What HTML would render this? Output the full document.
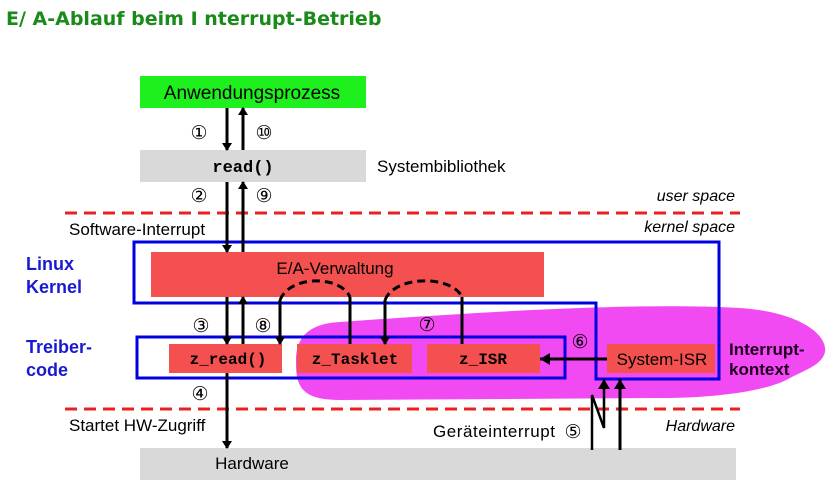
<!DOCTYPE html>
<html><head><meta charset="utf-8"><style>
body{margin:0;background:#fff;}
svg{display:block}
text{font-family:"Liberation Sans","DejaVu Sans",sans-serif;}
.m{font-family:"Liberation Mono",monospace;font-weight:bold;}
.c{font-family:"Noto Sans CJK JP","DejaVu Sans",sans-serif;font-size:19px;}
</style></head><body>
<svg width="840" height="488" viewBox="0 0 840 488" xmlns="http://www.w3.org/2000/svg">
<defs>
<marker id="a" markerWidth="8" markerHeight="10" refX="7" refY="5" orient="auto" markerUnits="userSpaceOnUse" viewBox="0 0 8 10"><path d="M0,0 L8,5 L0,10 z" fill="#000"/></marker>
<marker id="b" markerWidth="10" markerHeight="12" refX="10" refY="6" orient="auto" markerUnits="userSpaceOnUse" viewBox="0 0 10 12"><path d="M0,0 L10,6 L0,12 z" fill="#000"/></marker>
</defs>
<text x="6" y="25" font-size="19" font-weight="bold" fill="#1a8a1a" style="font-family:'DejaVu Sans',sans-serif">E/ A-Ablauf beim I nterrupt-Betrieb</text>

<!-- magenta blob -->
<path d="M340,322 C480,312 640,302 740,308 C800,312 828,335 825,352 C822,365 805,370 790,378 C770,390 720,398 660,398 L340,400 C300,400 296,385 296,362 C296,340 305,324 340,322 Z" fill="#f24af2"/>

<!-- boxes -->
<rect x="140" y="76" width="226" height="32" fill="#1ef01e"/>
<text x="252" y="99" font-size="19" text-anchor="middle">Anwendungsprozess</text>
<rect x="140" y="150" width="226" height="32" fill="#d9d9d9"/>
<text x="243" y="172" font-size="17" class="m" text-anchor="middle">read()</text>
<text x="377" y="172" font-size="17">Systembibliothek</text>
<rect x="140" y="448" width="596" height="32" fill="#d9d9d9"/>
<text x="252" y="469" font-size="17" text-anchor="middle">Hardware</text>

<rect x="151" y="252" width="393" height="45" fill="#f45050"/>
<text x="335" y="274" font-size="17" text-anchor="middle">E/A-Verwaltung</text>
<rect x="169" y="344" width="113" height="29" fill="#f45050"/>
<text x="228" y="364" font-size="16" class="m" text-anchor="middle">z_read()</text>
<rect x="297" y="344" width="115" height="29" fill="#f45050"/>
<text x="355" y="364" font-size="16" class="m" text-anchor="middle">z_Tasklet</text>
<rect x="427" y="344" width="113" height="29" fill="#f45050"/>
<text x="483" y="364" font-size="16" class="m" text-anchor="middle">z_ISR</text>
<rect x="607" y="344" width="108" height="29" fill="#f45050"/>
<text x="662" y="365" font-size="17" text-anchor="middle">System-ISR</text>

<!-- blue boxes -->
<path d="M134,242 H719 V379 H596 V303 H134 Z" fill="none" stroke="#0000e0" stroke-width="3"/>
<rect x="137" y="337" width="428" height="41" fill="none" stroke="#0000e0" stroke-width="3"/>

<!-- dashed lines -->
<line x1="65" y1="213" x2="740" y2="213" stroke="#e82020" stroke-width="3" stroke-dasharray="12,7"/>
<line x1="65" y1="409" x2="740" y2="409" stroke="#e82020" stroke-width="3" stroke-dasharray="12,7"/>

<!-- labels -->
<text x="735" y="201" font-size="16" font-style="italic" text-anchor="end">user space</text>
<text x="735" y="232" font-size="16" font-style="italic" text-anchor="end">kernel space</text>
<text x="735" y="431" font-size="16" font-style="italic" text-anchor="end">Hardware</text>
<text x="69" y="235" font-size="17">Software-Interrupt</text>
<text x="69" y="431" font-size="17">Startet HW-Zugriff</text>
<text x="433" y="437" font-size="17" textLength="122">Geräteinterrupt</text>
<text x="26" y="270" font-size="18" font-weight="bold" fill="#1a1ad0">Linux</text>
<text x="26" y="293" font-size="18" font-weight="bold" fill="#1a1ad0">Kernel</text>
<text x="26" y="353" font-size="18" font-weight="bold" fill="#1a1ad0">Treiber-</text>
<text x="26" y="376" font-size="18" font-weight="bold" fill="#1a1ad0">code</text>
<text x="729" y="355" font-size="17" font-weight="bold" fill="#200020">Interrupt-</text>
<text x="729" y="375" font-size="17" font-weight="bold" fill="#200020">kontext</text>

<g class="c" text-anchor="middle">
<text x="199" y="139">①</text><text x="264" y="139">⑩</text>
<text x="199" y="202">②</text><text x="264" y="202">⑨</text>
<text x="201" y="332">③</text><text x="263" y="332">⑧</text>
<text x="200" y="400">④</text><text x="427" y="331">⑦</text>
<text x="580" y="348">⑥</text><text x="573" y="438">⑤</text>
</g>

<!-- arrows -->
<g stroke="#000" stroke-width="3" fill="none">
<line x1="227" y1="108" x2="227" y2="150" marker-end="url(#a)"/>
<line x1="243" y1="150" x2="243" y2="108" marker-end="url(#a)"/>
<line x1="227" y1="182" x2="227" y2="252" marker-end="url(#a)"/>
<line x1="243" y1="252" x2="243" y2="182" marker-end="url(#a)"/>
<line x1="227" y1="297" x2="227" y2="344" marker-end="url(#a)"/>
<line x1="243" y1="344" x2="243" y2="297" marker-end="url(#a)"/>
<line x1="227" y1="373" x2="227" y2="448" marker-end="url(#a)"/>
<line x1="280" y1="300" x2="280" y2="344" marker-end="url(#a)"/>
<line x1="350" y1="297" x2="350" y2="344"/>
<line x1="385" y1="300" x2="385" y2="344" marker-end="url(#a)"/>
<line x1="462" y1="297" x2="462" y2="344"/>
<path d="M280,300 C290,275 340,275 350,297" stroke-dasharray="8,5"/>
<path d="M385,300 C395,275 452,275 462,297" stroke-dasharray="8,5"/>
<line x1="607" y1="359" x2="540" y2="359" marker-end="url(#b)"/>
<line x1="620" y1="450" x2="620" y2="379" marker-end="url(#b)"/>
<polyline points="592,450 592,395 604,428 604,379" stroke-width="2.5" marker-end="url(#b)"/>
</g>
</svg>
</body></html>
